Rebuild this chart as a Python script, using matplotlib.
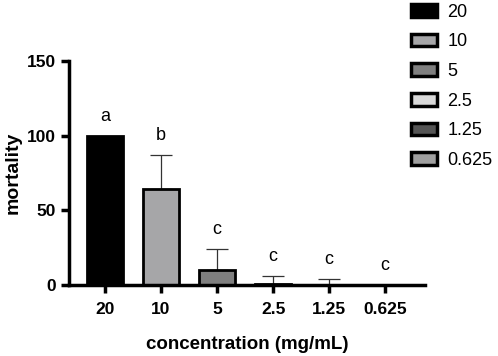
import matplotlib.pyplot as plt
from matplotlib.patches import Patch

plt.rcParams['font.family'] = ['Liberation Sans', 'DejaVu Sans']

concentrations = ['20', '10', '5', '2.5', '1.25', '0.625']
mortality = [100, 64, 10, 1, 0, 0]
errors = [0, 23, 14, 5, 4, 0]
letters = ['a', 'b', 'c', 'c', 'c', 'c']
colors = ['#000000', '#a6a6a8', '#7f7f7f', '#d9d9d9', '#555555', '#a0a0a0']

fig = plt.figure(figsize=(4.98, 3.56), dpi=100)
ax = fig.add_axes([69 / 498, 71 / 356, (425 - 69) / 498, 224 / 356])

x = list(range(len(concentrations)))
ax.bar(x, mortality, width=0.64, color=colors, edgecolor='black', linewidth=2, zorder=2)
for xi, m, e in zip(x, mortality, errors):
    if e > 0:
        ax.errorbar(xi, m, yerr=[[0], [e]], fmt='none', ecolor='#333333',
                    elinewidth=0.9, capsize=8, capthick=0.9, zorder=1)

# letras de significancia
for xi, m, e, l in zip(x, mortality, errors, letters):
    top = m + e
    ax.text(xi, top + 10, l, ha='center', va='baseline', fontsize=13)

ax.set_xlim(-0.64, 5.71)
ax.set_ylim(0, 150)
ax.set_yticks([0, 50, 100, 150])
ax.set_xticks(x)
ax.set_xticklabels(concentrations)
for lbl in ax.get_xticklabels() + ax.get_yticklabels():
    lbl.set_fontweight('bold')
    lbl.set_fontsize(12.5)

ax.spines['top'].set_visible(False)
ax.spines['right'].set_visible(False)
ax.spines['left'].set_linewidth(2.5)
ax.spines['bottom'].set_linewidth(2.5)
ax.tick_params(axis='both', width=2.5, length=6)
ax.tick_params(axis='x', pad=6)

ax.set_xlabel('concentration (mg/mL)', fontsize=13.5, fontweight='bold', labelpad=14)
ax.set_ylabel('mortality', fontsize=14, fontweight='bold', labelpad=4)

handles = [Patch(facecolor=c, edgecolor='black', linewidth=2.5) for c in colors]
fig.legend(handles, concentrations, loc='upper left', bbox_to_anchor=(395 / 498, 1.035),
           frameon=False, fontsize=13, handlelength=1.4, handleheight=0.7,
           labelspacing=0.7, handletextpad=0.6)

plt.savefig('out.png', dpi=100)
